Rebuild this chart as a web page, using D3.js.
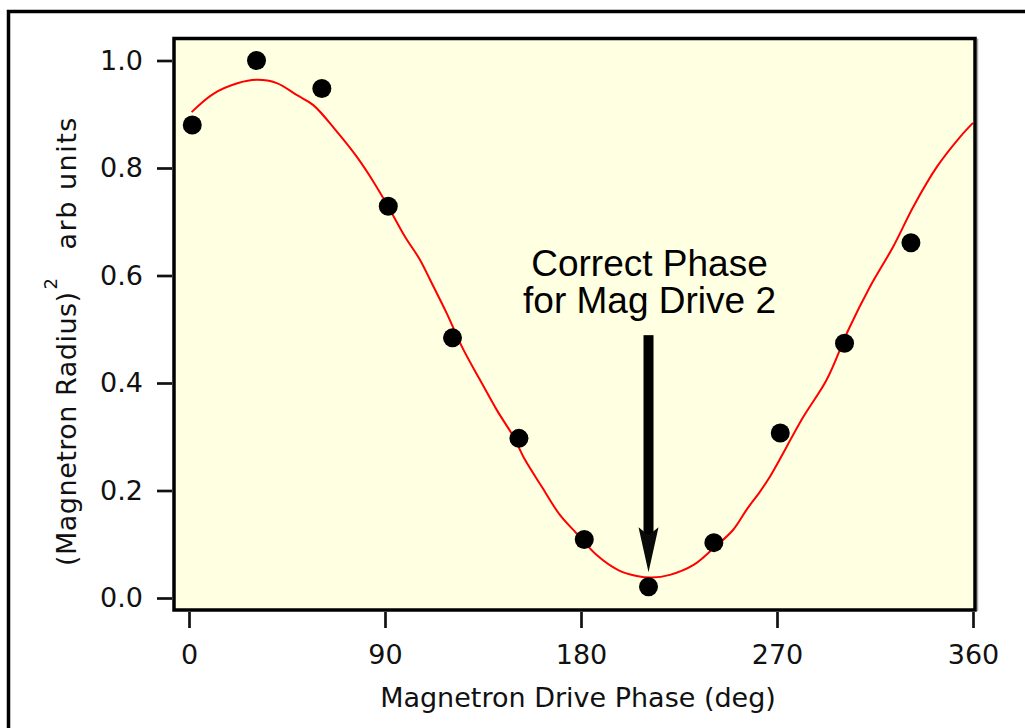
<!DOCTYPE html>
<html>
<head>
<meta charset="utf-8">
<script src="https://cdn.jsdelivr.net/npm/d3@7"></script>
<style>
  html, body { margin: 0; padding: 0; background: #fff; }
  svg { display: block; }
</style>
</head>
<body>
<svg id="chart" width="1025" height="728"></svg>
<script>
// measured points (phase in deg, radius^2 in arb units)
const phase = [1.5, 31, 61, 91.5, 121, 151.5, 181.5, 211, 241, 271.5, 301, 331.5];
const radius2 = [0.880, 1.000, 0.948, 0.729, 0.484, 0.297, 0.109, 0.021, 0.103, 0.307, 0.474, 0.661];

// fitted curve
const fitPhase = [1.2, 11.2, 22.6, 31.1, 40.3, 49.4, 57.1, 67.8, 77, 84.6, 91.5, 99.2, 106.1, 110.7,
  118.3, 126, 133.6, 141.3, 149, 154.3, 162, 170.4, 178, 187.2, 197.1, 205.6, 212.4, 220.8,
  231.5, 240.7, 249.9, 256, 262.2, 266.8, 282.1, 292.8, 302.8, 312.7, 323.4, 332.6, 343.4, 354.1, 360];
const fitValue = [0.904, 0.938, 0.958, 0.964, 0.958, 0.936, 0.917, 0.868, 0.821, 0.775, 0.728, 0.672, 0.629, 0.592,
  0.530, 0.462, 0.406, 0.350, 0.300, 0.257, 0.207, 0.154, 0.120, 0.080, 0.052, 0.041, 0.038, 0.043,
  0.061, 0.092, 0.127, 0.164, 0.198, 0.226, 0.337, 0.406, 0.499, 0.579, 0.654, 0.728, 0.802, 0.858, 0.884];

const xTicks = [0, 90, 180, 270, 360];
const yTicks = [0, 0.2, 0.4, 0.6, 0.8, 1.0];

const svg = d3.select('#chart');

// plot frame (pixels)
const frame = { left: 174, top: 38.5, right: 975, bottom: 610 };

const x = d3.scaleLinear().domain([0, 360]).range([189, 973]);
const y = d3.scaleLinear().domain([0, 1]).range([598, 60.5]);

// outer border (top + left only)
svg.append('path')
  .attr('d', 'M8.5,728 V11.5 H1025')
  .attr('fill', 'none')
  .attr('stroke', '#000')
  .attr('stroke-width', 3.5);

// plot background
svg.append('rect')
  .attr('x', frame.left)
  .attr('y', frame.top)
  .attr('width', frame.right - frame.left)
  .attr('height', frame.bottom - frame.top)
  .attr('fill', '#ffffe1');

svg.append('clipPath').attr('id', 'clip')
  .append('rect')
  .attr('x', frame.left)
  .attr('y', frame.top)
  .attr('width', frame.right - frame.left)
  .attr('height', frame.bottom - frame.top);

// fit line
const line = d3.line()
  .x((d, i) => x(fitPhase[i]))
  .y(d => y(d))
  .curve(d3.curveCatmullRom);

svg.append('path')
  .datum(fitValue)
  .attr('clip-path', 'url(#clip)')
  .attr('d', line)
  .attr('fill', 'none')
  .attr('stroke', '#ff0000')
  .attr('stroke-width', 2);

// data dots
svg.append('g')
  .selectAll('circle')
  .data(radius2)
  .join('circle')
  .attr('cx', (d, i) => x(phase[i]))
  .attr('cy', d => y(d))
  .attr('r', 9.5)
  .attr('fill', '#000');

// frame with slight grey shadow on the right
svg.append('line')
  .attr('x1', frame.right + 2.5).attr('x2', frame.right + 2.5)
  .attr('y1', frame.top).attr('y2', frame.bottom + 1)
  .attr('stroke', '#aaa')
  .attr('stroke-width', 1.5);

svg.append('rect')
  .attr('x', frame.left)
  .attr('y', frame.top)
  .attr('width', frame.right - frame.left)
  .attr('height', frame.bottom - frame.top)
  .attr('fill', 'none')
  .attr('stroke', '#000')
  .attr('stroke-width', 3.5);

// axes
const yAxis = svg.append('g')
  .attr('transform', `translate(${frame.left - 2},0)`)
  .call(d3.axisLeft(y).tickValues(yTicks).tickFormat(d3.format('.1f')).tickSize(15).tickPadding(14));

const xAxis = svg.append('g')
  .attr('transform', `translate(0,${frame.bottom + 2})`)
  .call(d3.axisBottom(x).tickValues(xTicks).tickSize(16).tickPadding(17));

[yAxis, xAxis].forEach(a => {
  a.select('.domain').remove();
  a.selectAll('.tick line').attr('stroke', '#111').attr('stroke-width', 2.7);
  a.selectAll('.tick text')
    .attr('fill', '#111')
    .style('font-family', '"DejaVu Sans", Verdana, sans-serif')
    .style('font-size', '27px');
});

// axis titles
svg.append('text')
  .attr('x', 578)
  .attr('y', 707)
  .attr('text-anchor', 'middle')
  .attr('fill', '#111')
  .style('font-family', '"DejaVu Sans", Verdana, sans-serif')
  .style('font-size', '27px')
  .text('Magnetron Drive Phase (deg)');

const yt = svg.append('text')
  .attr('transform', 'translate(76,566) rotate(-90)')
  .attr('fill', '#111')
  .style('font-family', '"DejaVu Sans", Verdana, sans-serif')
  .style('font-size', '27px')
  .style('letter-spacing', '0.5px');
yt.append('tspan').text('(Magnetron Radius)');
yt.append('tspan').attr('dy', -19).attr('dx', 2).style('font-size', '18px').text('2');
yt.append('tspan').attr('dy', 19).attr('dx', 28).style('letter-spacing', '1.5px').text('arb units');

// annotation arrow
const ax = x(211);
const tipY = y(0.048);
const topY = y(0.489);
const headLen = 45;
svg.append('rect')
  .attr('x', ax - 5)
  .attr('y', topY)
  .attr('width', 10)
  .attr('height', tipY - headLen + 8 - topY)
  .attr('fill', '#000');
svg.append('path')
  .attr('d', `M${ax},${tipY} L${ax - 10},${tipY - headLen} L${ax},${tipY - headLen + 8} L${ax + 10},${tipY - headLen} Z`)
  .attr('fill', '#0a0a0a');

const note = svg.append('text')
  .attr('text-anchor', 'middle')
  .attr('fill', '#000')
  .style('font-family', '"Liberation Sans", Arial, sans-serif')
  .style('font-size', '37px');
note.append('tspan').attr('x', ax + 1).attr('y', 276).text('Correct Phase');
note.append('tspan').attr('x', ax + 1).attr('y', 313).text('for Mag Drive 2');
</script>
</body>
</html>
